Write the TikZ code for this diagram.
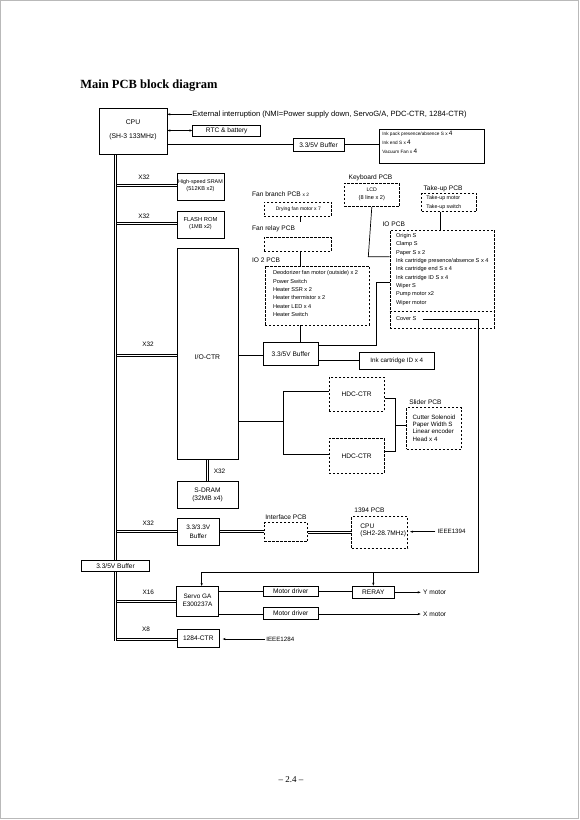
\documentclass[tikz,border=0pt]{standalone}
\usepackage{fontspec}
\setmainfont{Liberation Sans}
\newfontfamily\serifface{Liberation Serif}
\usetikzlibrary{arrows.meta}
\begin{document}
\begin{tikzpicture}[x=1pt,y=-1pt, line width=0.7pt,
  box/.style={draw, inner sep=0pt, align=center, font=\fontsize{6.6}{7.5}\selectfont},
  dbox/.style={box, dash pattern=on 2.4pt off 1.6pt},
  lab/.style={inner sep=0pt, anchor=west, font=\fontsize{6.6}{7.5}\selectfont},
  ctext/.style={inner sep=0pt, font=\fontsize{6.4}{7.5}\selectfont},
  sm/.style={inner sep=0pt, anchor=west, font=\fontsize{5.6}{6}\selectfont},
  tiny/.style={inner sep=0pt, anchor=west, font=\fontsize{4.7}{5.5}\selectfont},
  dl/.style={line width=0.6pt},
  arr/.style={-{Stealth[length=3pt,width=2.2pt]}},
  darr/.style={{Stealth[length=3pt,width=2.2pt]}-{Stealth[length=3pt,width=2.2pt]}},
  dsep/.style={dash pattern=on 2.4pt off 1.6pt}
]
\useasboundingbox (0,0) rectangle (580,820);
\draw[gray!55, line width=0.8pt] (0.6,0.6) rectangle (578.8,818.8);

% title
\node[inner sep=0pt, anchor=west, font=\serifface\bfseries\fontsize{12.5}{13}\selectfont] (title) at (80,86) {Main PCB block diagram};

% CPU
\node[box, minimum width=68pt, minimum height=46pt] (cpu) at (133,131) {};
\node[ctext, font=\fontsize{6.8}{7.5}\selectfont] (cpuA) at (133,122) {CPU};
\node[ctext, font=\fontsize{6.8}{7.5}\selectfont] (cpuB) at (133,137) {(SH-3 133MHz)};

\node[lab, font=\fontsize{7.6}{8}\selectfont] (ext) at (192,114.3) {External interruption (NMI=Power supply down, ServoG/A, PDC-CTR, 1284-CTR)};
\draw[arr] (ext.west) -- (cpu.east |- ext.west);

\node[box, minimum width=68pt, minimum height=11pt] (rtc) at (226.7,130.5) {RTC \& battery};
\draw[darr] (cpu.east |- rtc.west) -- (rtc.west);

\node[box, minimum width=51pt, minimum height=13pt] (buf1) at (318.5,144.8) {3.3/5V Buffer};
\draw (cpu.east |- buf1.west) -- (buf1.west);
\node[box, minimum width=105pt, minimum height=34pt] (ink) at (431.5,146) {};
\draw (buf1.east) -- (ink.west |- buf1.east);
\node[tiny] (ink1) at (382,133.3) {Ink pack presence/absence S x {\fontsize{6.4}{6}\selectfont 4}};
\node[tiny] (ink2) at (382,142.5) {Ink end S x {\fontsize{6.4}{6}\selectfont 4}};
\node[tiny] (ink3) at (382,151.5) {Vacuum Fan x {\fontsize{6.4}{6}\selectfont 4}};

% left 3.3/5V buffer
\node[box, minimum width=67.6pt, minimum height=11.7pt] (buf5b) at (115.5,565.8) {3.3/5V Buffer};

% boxes on the bus
\node[box, minimum width=47pt, minimum height=27pt] (sram) at (200.5,186.5) {};
\node[ctext, font=\fontsize{5.4}{6}\selectfont] (sramA) at (200.5,181.7) {High-speed SRAM};
\node[ctext, font=\fontsize{5.6}{6}\selectfont] (sramB) at (200.5,189.3) {(512KB x2)};
\node[ctext] (x32a) at (144,177.7) {X32};

\node[box, minimum width=47pt, minimum height=26.6pt] (flash) at (200.5,225) {};
\node[ctext, font=\fontsize{5.8}{6}\selectfont] (flashA) at (200.5,219.3) {FLASH ROM};
\node[ctext, font=\fontsize{5.6}{6}\selectfont] (flashB) at (200.5,226.7) {(1MB x2)};
\node[ctext] (x32b) at (144,216) {X32};

\node[box, minimum width=61pt, minimum height=211.5pt] (ioctr) at (207.5,353.75) {};
\node[ctext, font=\fontsize{6.8}{7.5}\selectfont] (ioctrT) at (207.5,356.7) {I/O-CTR};
\node[ctext] (x32c) at (148,344.3) {X32};

\node[box, minimum width=61pt, minimum height=26.6pt] (sdram) at (207.5,495) {};
\node[ctext, font=\fontsize{6.6}{7.5}\selectfont] (sdramA) at (207.5,490.7) {S-DRAM};
\node[ctext, font=\fontsize{6.6}{7.5}\selectfont] (sdramB) at (207.5,498.3) {(32MB x4)};
\node[ctext] (x32d) at (219.5,471.7) {X32};

\node[box, minimum width=42.3pt, minimum height=26.7pt] (buf33) at (198.2,531.7) {};
\node[ctext] (buf33A) at (198.2,527.3) {3.3/3.3V};
\node[ctext] (buf33B) at (198.2,536) {Buffer};
\node[ctext] (x32e) at (148.3,523.3) {X32};

\node[box, minimum width=41.6pt, minimum height=30.7pt] (servo) at (197.5,601.3) {};
\node[ctext] (servoA) at (197.5,596) {Servo GA};
\node[ctext] (servoB) at (197.5,604.3) {E300237A};
\node[ctext] (x16) at (148.3,592.7) {X16};

\node[box, minimum width=42pt, minimum height=18pt] (c1284) at (198.3,638.3) {1284-CTR};
\node[ctext] (x8) at (146,629.3) {X8};

% interface / 1394
\node[dbox, minimum width=43.4pt, minimum height=19pt] (interface) at (286,532.2) {};
\node[lab] (interfaceL) at (265,516.7) {Interface PCB};
\node[dbox, minimum width=56pt, minimum height=31.6pt] (p1394) at (379.7,532.5) {};
\node[lab] (p1394L) at (354,510) {1394 PCB};
\node[lab] (p1394A) at (360,526) {CPU};
\node[lab] (p1394B) at (360,534) {(SH2-28.7MHz)};
\node[lab, font=\fontsize{6.2}{7}\selectfont] (ieee1394) at (437.3,531.7) {IEEE1394};
\draw[arr, shorten >=2pt] (ieee1394.west) ++(-2,0) -- (p1394.east |- ieee1394.west);

% bus (double lines)
\coordinate (busTop) at (cpu.south -| 115,0);
\coordinate (busMid) at (buf5b.north -| 115,0);
\coordinate (busLow) at (buf5b.south -| 115,0);
\coordinate (busEnd) at (115,641.3);
\foreach \s in {-1,1} {
  \draw[dl] ([xshift=\s pt]busTop) -- ([xshift=\s pt]busMid);
  \draw[dl] ([xshift=\s pt]busLow) -- ([xshift=\s pt]busEnd);
  \draw[dl] ([xshift=\s pt]ioctr.south) -- ([xshift=\s pt]sdram.north);
}
\coordinate (bSram) at (116,185.3);   \coordinate (eSram) at (sram.west |- bSram);
\coordinate (bFlash) at (116,223.3);  \coordinate (eFlash) at (flash.west |- bFlash);
\coordinate (bIoctr) at (116,355.3);  \coordinate (eIoctr) at (ioctr.west |- bIoctr);
\coordinate (bBuf33) at (116,531);    \coordinate (eBuf33) at (buf33.west |- bBuf33);
\coordinate (bServo) at (116,601.7);  \coordinate (eServo) at (servo.west |- bServo);
\coordinate (bCtr) at (116,639.3);    \coordinate (eCtr) at (c1284.west |- bCtr);
\coordinate (bIf) at (buf33.east |- 0,531.2);  \coordinate (eIf) at (interface.west |- bIf);
\coordinate (bP13) at (interface.east |- 0,532.5); \coordinate (eP13) at (p1394.west |- bP13);
\foreach \a/\b in {bSram/eSram, bFlash/eFlash, bIoctr/eIoctr, bBuf33/eBuf33, bServo/eServo, bCtr/eCtr, bIf/eIf, bP13/eP13} {
  \draw[dl] ([yshift=1pt]\a) -- ([yshift=1pt]\b);
  \draw[dl] ([yshift=-1pt]\a) -- ([yshift=-1pt]\b);
}

\node[lab, font=\fontsize{6.2}{7}\selectfont] (ieee1284) at (266,639) {IEEE1284};
\draw[arr, shorten >=3pt] (ieee1284.west) ++(-1,0) -- (c1284.east |- ieee1284.west);

% motor drivers
\node[box, minimum width=55pt, minimum height=10.5pt] (md1) at (290.8,591.2) {Motor driver};
\node[box, minimum width=55pt, minimum height=11.6pt] (md2) at (290.8,613.5) {Motor driver};
\node[box, minimum width=41.3pt, minimum height=12.3pt] (reray) at (373.3,592.2) {RERAY};
\draw (servo.east |- 0,591.7) -- (md1.west |- 0,591.7);
\draw (servo.east |- 0,614) -- (md2.west |- 0,614);
\draw (md1.east |- 0,591.7) -- (reray.west |- 0,591.7);
\node[lab] (ymot) at (422.7,592.3) {Y motor};
\node[lab] (xmot) at (422.7,614) {X motor};
\draw[arr, shorten >=2pt] (reray.east |- ymot.west) -- (ymot.west);
\draw[arr, shorten >=2pt] (md2.east |- xmot.west) -- (xmot.west);

% 3.3/5V buffer (middle)
\node[box, minimum width=55pt, minimum height=22.8pt] (buf2) at (290.8,353.9) {3.3/5V Buffer};
\draw (ioctr.east |- 0,355.7) -- (buf2.west |- 0,355.7);
\node[box, minimum width=75pt, minimum height=16.6pt, font=\fontsize{6.3}{7}\selectfont] (inkid) at (396.8,361) {Ink cartridge ID x 4};
\draw (buf2.east |- 0,360) -- (inkid.west |- 0,360);

% fan branch / relay / IO2
\node[dbox, minimum width=67.7pt, minimum height=14pt] (fanb) at (297.9,209) {};
\node[lab] (fanbL) at (251.7,194.3) {Fan branch PCB {\fontsize{4.8}{5}\selectfont x 2}};
\node[tiny, font=\fontsize{5}{5.5}\selectfont] (fanbT) at (275.5,209) {Drying fan motor x 7};
\node[dbox, minimum width=67.7pt, minimum height=13.3pt] (fanr) at (297.9,244.3) {};
\node[lab] (fanrL) at (251.7,228.3) {Fan relay PCB};
\coordinate (fanEnd) at (300,222);
\draw (fanb.south -| fanEnd) -- (fanEnd);
\node[dbox, minimum width=104.3pt, minimum height=59pt] (io2) at (317.2,295.5) {};
\node[lab] (io2L) at (251.7,260.7) {IO 2 PCB};
\draw (fanr.south -| fanEnd) -- (io2.north -| fanEnd);
\draw (io2.south -| fanEnd) -- (buf2.north -| fanEnd);
\foreach \t [count=\i] in {Deodorizer fan motor (outside) x 2, Power Switch, Heater SSR x 2, Heater thermistor x 2, Heater LED x 4, Heater Switch}
  \node[sm] (io2t\i) at (272.7, 264.3+8.4*\i) {\t};

% keyboard
\node[dbox, minimum width=55pt, minimum height=23.4pt] (kbd) at (371.8,195) {};
\node[lab] (kbdL) at (348.3,177.7) {Keyboard PCB};
\node[ctext, font=\fontsize{5.2}{6}\selectfont] (kbdA) at (371.8,190) {LCD};
\node[ctext, font=\fontsize{5.6}{6}\selectfont] (kbdB) at (371.8,198.3) {(8 line x 2)};

% take-up
\node[dbox, minimum width=55pt, minimum height=18.4pt] (takeup) at (449.2,202.5) {};
\node[lab] (takeupL) at (423.3,189) {Take-up PCB};
\node[tiny, font=\fontsize{5.3}{5.5}\selectfont] (takeupA) at (426,198.3) {Take-up motor};
\node[tiny, font=\fontsize{5.3}{5.5}\selectfont] (takeupB) at (426,207) {Take-up switch};

% IO PCB
\node[dbox, minimum width=104.3pt, minimum height=98.3pt] (iopcb) at (442.2,279.2) {};
\node[lab] (iopcbL) at (382.3,224) {IO PCB};
\draw[dsep] (iopcb.west |- 0,311.7) -- (iopcb.east |- 0,311.7);
\foreach \t [count=\i] in {Origin S, Clamp S, Paper S x 2, Ink cartridge presence/absence S x 4, Ink cartridge end S x 4, Ink cartridge ID S x 4, Wiper S, Pump motor x2, Wiper motor}
  \node[sm] (iot\i) at (395.7, 227.6+8.37*\i) {\t};
\node[sm] (cover) at (395.7,319) {Cover S};
\coordinate (tkx) at (440,0);
\draw (takeup.south -| tkx) -- (iopcb.north -| tkx);
\coordinate (kbdBend) at (368.3,256.7);
\draw (kbd.south) -- (kbdBend) -- (iopcb.west |- kbdBend);
\coordinate (ioBendA) at (376.5,282.7);
\coordinate (ioBendB) at (376.5,345);
\draw (iopcb.west |- ioBendA) -- (ioBendA) -- (ioBendB) -- (buf2.east |- ioBendB);

% cover S to servo / reray
\coordinate (cornerR) at (478.3,572.3);
\coordinate (servoIn) at (201.7,586);
\draw[arr, shorten <=6pt] (cover.east) -| (cornerR) -| (servoIn);
\draw[arr] (reray.north |- cornerR) -- (reray.north);

% HDC-CTR
\node[dbox, minimum width=55.3pt, minimum height=33.7pt] (hdc1) at (356.7,394.2) {HDC-CTR};
\node[dbox, minimum width=55.3pt, minimum height=35pt] (hdc2) at (356.7,455.8) {HDC-CTR};
\coordinate (hL) at (283.3,421);
\coordinate (hLt) at (283.3,391.7);
\coordinate (hLb) at (283.3,454.3);
\draw (ioctr.east |- hL) -- (hL);
\draw (hdc1.west |- hLt) -- (hLt) -- (hLb) -- (hdc2.west |- hLb);
\coordinate (hRt) at (395.7,398.3);
\coordinate (hRb) at (395.7,451.7);
\coordinate (hRm) at (395.7,425);
\draw (hdc1.east |- hRt) -- (hRt) -- (hRb) -- (hdc2.east |- hRb);
\node[dbox, minimum width=55pt, minimum height=41.3pt] (slider) at (434.2,428.3) {};
\node[lab] (sliderL) at (409,401.7) {Slider PCB};
\draw (hRm) -- (slider.west |- hRm);
\foreach \t [count=\i] in {Cutter Solenoid, Paper Width S, Linear encoder, Head x 4}
  \node[inner sep=0pt, anchor=west, font=\fontsize{6.2}{6.5}\selectfont] (slt\i) at (412.3, 410.1+7.22*\i) {\t};

% page number
\node[inner sep=0pt, font=\serifface\fontsize{9}{10}\selectfont] (pg) at (291,780) {– 2.4 –};
\end{tikzpicture}
\end{document}
